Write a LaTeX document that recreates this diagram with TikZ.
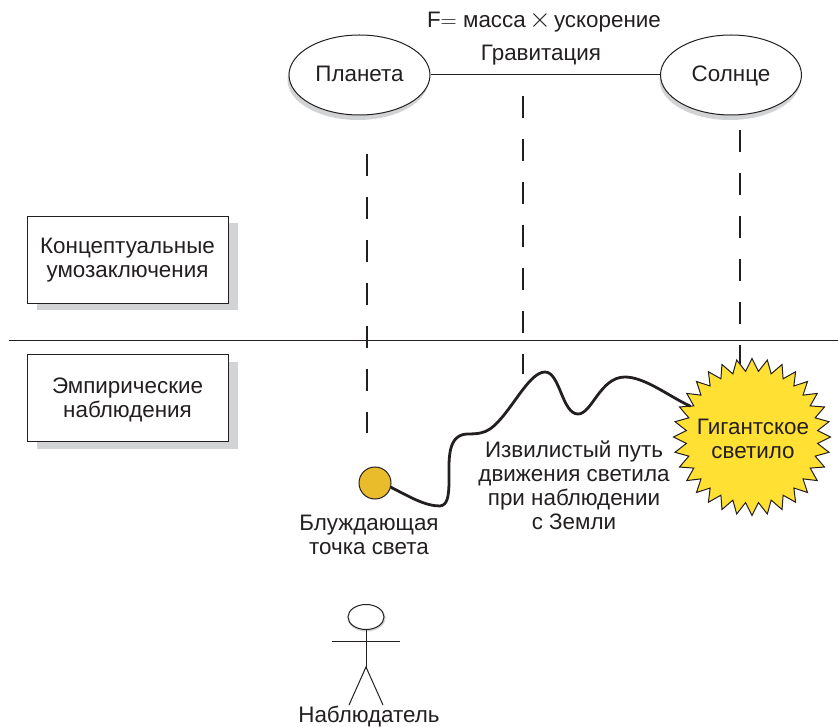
\documentclass[tikz,border=0pt]{standalone}
\usepackage{fix-cm}
\usepackage{fontspec}
\setmainfont{Liberation Sans}
\usetikzlibrary{shapes.geometric}
\definecolor{ink}{HTML}{231F20}
\definecolor{shade}{HTML}{D1D3D4}
\definecolor{sunfill}{HTML}{FFE033}
\definecolor{ballfill}{HTML}{E9BC2B}
\tikzset{
  txt/.style={inner sep=0pt,align=center,text=ink,font=\fontsize{22.4}{24}\selectfont},
  oval/.style={ellipse,draw=ink,line width=1pt,fill=white,minimum width=141pt,minimum height=80pt,inner sep=0pt,text=ink,text height=16pt,text depth=2pt,font=\fontsize{22.4}{24}\selectfont},
  ovalshade/.style={ellipse,fill=shade,minimum width=141pt,minimum height=80pt,inner sep=0pt},
  box/.style={rectangle,draw=ink,line width=1pt,fill=white,minimum width=201pt,minimum height=87pt,inner sep=0pt,align=center,text=ink,font=\fontsize{22.4}{24}\selectfont},
  boxshade/.style={rectangle,fill=shade,minimum width=201pt,minimum height=87pt,inner sep=0pt},
  dashline/.style={draw=ink,line width=2.6pt,dash pattern=on 22pt off 21pt},
  thin line/.style={draw=ink,line width=1pt},
}
\begin{document}
\begin{tikzpicture}[x=1pt,y=-1pt]
\useasboundingbox (0,0) rectangle (838,727);
% shadows
\node[ovalshade] (ps) at (358,80) {};
\node[ovalshade] (ss) at (730,80) {};
\node[boxshade] (b1s) at (137.5,267) {};
\node[boxshade] (b2s) at (137.5,405.5) {};
% coordinates for dashed lines
\coordinate (d1a) at (367,154); \coordinate (d1b) at (367,433);
\coordinate (d2a) at (523,96);  \coordinate (d2b) at (523,374);
\coordinate (d3a) at (740,130); \coordinate (d3b) at (740,368);
\coordinate (hl) at (9,340); \coordinate (hr) at (838,340);
\draw[thin line] (hl) -- (hr);
\draw[dashline] (d1a) -- (d1b);
\draw[dashline] (d2a) -- (d2b);
\draw[dashline] (d3a) -- (d3b);
% ovals
\node[oval] (planet) at (359.5,75) {Планета};
\node[oval] (sun) at (731,75) {Солнце};
\draw[thin line] (planet) -- (sun);
\node[txt] (formula) at (544,22) {F$=$\ масса\kern-3pt\ \scalebox{1.25}{$\times$}\kern-3pt\ ускорение};
\node[txt] (grav) at (541,55) {Гравитация};
% boxes
\node[box] (b1) at (127.5,260.5) {Концептуальные\\умозаключения};
\node[box] (b2) at (127.5,398) {\rule{0pt}{20pt}Эмпирические\\наблюдения};
% star and ball
\node[star,star points=32,star point ratio=1.19,draw=ink,line width=1pt,fill=sunfill,minimum size=157pt,inner sep=0pt] (giant) at (752,437) {};
\node[txt] (giantlabel) at (753,438.5) {Гигантское\\светило};
\node[circle,draw=ink,line width=1pt,fill=ballfill,minimum size=32pt,inner sep=0pt] (ball) at (375,483) {};
\coordinate (pathend) at (690,406);
\draw[draw=ink,line width=2.8pt,line cap=round] (ball.-15) .. controls (410,497) and (425,506) .. (440,506)
 .. controls (447,505) and (449,498) .. (449,480)
 .. controls (449,460) and (447,435) .. (467,434)
 .. controls (478,434) and (484,433) .. (490,429)
 .. controls (510,415) and (528,372) .. (545,372)
 .. controls (560,372) and (562,414) .. (578,414)
 .. controls (592,414) and (600,377) .. (625,377)
 .. controls (645,377) and (670,397) .. (pathend);
% labels
\node[txt] (pathlabel) at (574,485.5) {Извилистый путь\\движения светила\\при наблюдении\\с Земли};
\node[txt] (balllabel) at (369,534.5) {Блуждающая\\точка света};
% observer
\node[ellipse,fill=shade,minimum width=38pt,minimum height=27pt,inner sep=0pt] (headshade) at (366.5,618) {};
\node[ellipse,draw=ink,line width=1pt,fill=white,minimum width=36pt,minimum height=25pt,inner sep=0pt] (head) at (366,617) {};
\coordinate (hip) at (366,667);
\coordinate (armL) at (332,641); \coordinate (armR) at (400,641);
\coordinate (legL) at (349,705); \coordinate (legR) at (383,705);
\draw[thin line] (head) -- (hip);
\draw[thin line] (armL) -- (armR);
\draw[thin line] (legL) -- (hip) -- (legR);
\node[txt] (obs) at (369,717) {Наблюдатель};
\end{tikzpicture}
\end{document}
